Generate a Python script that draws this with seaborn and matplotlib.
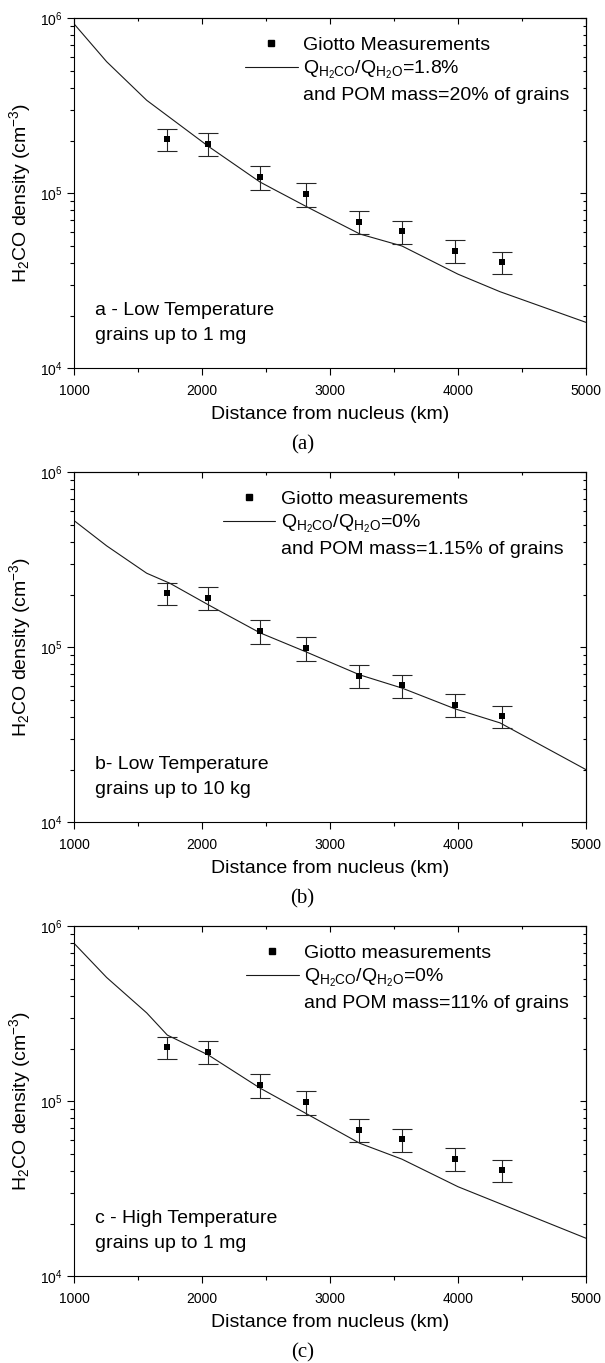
import matplotlib
matplotlib.use("Agg")
import matplotlib.pyplot as plt
import pandas as pd
import seaborn as sns
from matplotlib.lines import Line2D
from matplotlib.ticker import MultipleLocator, NullFormatter

# Giotto H2CO measurements (shared by all panels)
dist_obs = [1725, 2045, 2450, 2810, 3230, 3560, 3975, 4340]
dens_obs = [2.04e5, 1.92e5, 1.24e5, 9.9e4, 6.9e4, 6.05e4, 4.7e4, 4.04e4]
err_obs = [3.0e4, 2.9e4, 1.9e4, 1.5e4, 1.05e4, 0.9e4, 0.7e4, 0.6e4]

# Model density profiles
dist_a = [1000, 1255, 1568, 2052, 2453, 2815, 3234, 3562, 4000, 4328, 5000]
dens_a = [9.3e5, 5.65e5, 3.4e5, 1.85e5, 1.16e5, 8.4e4, 5.85e4, 5.0e4, 3.45e4, 2.74e4, 1.83e4]

dist_b = [1000, 1255, 1568, 1750, 2049, 2453, 2815, 3234, 3562, 3977, 4328, 5000]
dens_b = [5.3e5, 3.8e5, 2.65e5, 2.32e5, 1.75e5, 1.21e5, 9.4e4, 6.95e4, 5.85e4, 4.45e4, 3.7e4, 2.0e4]

dist_c = [1000, 1255, 1568, 1729, 2049, 2453, 2815, 3234, 3562, 4000, 5000]
dens_c = [8.0e5, 5.1e5, 3.2e5, 2.39e5, 1.84e5, 1.19e5, 8.5e4, 5.75e4, 4.67e4, 3.25e4, 1.65e4]

obs_labels = ["Giotto Measurements", "Giotto measurements", "Giotto measurements"]
ratio_labels = ["Q$_{H_2CO}$/Q$_{H_2O}$=1.8%", "Q$_{H_2CO}$/Q$_{H_2O}$=0%", "Q$_{H_2CO}$/Q$_{H_2O}$=0%"]
pom_labels = ["and POM mass=20% of grains", "and POM mass=1.15% of grains",
              "and POM mass=11% of grains"]
case_labels = ["a - Low Temperature\ngrains up to 1 mg",
               "b- Low Temperature\ngrains up to 10 kg",
               "c - High Temperature\ngrains up to 1 mg"]
captions = ["(a)", "(b)", "(c)"]

sns.set_style("ticks")
plt.rcParams["font.family"] = ["Liberation Sans", "DejaVu Sans"]
plt.rcParams["mathtext.default"] = "regular"
plt.rcParams["axes.linewidth"] = 0.8
plt.rcParams["text.color"] = "black"
plt.rcParams["axes.labelcolor"] = "black"
plt.rcParams["xtick.color"] = "black"
plt.rcParams["ytick.color"] = "black"

W, H = 605, 1363
fig = plt.figure(figsize=(W / 100, H / 100), dpi=100)

ax_left, ax_right = 74, 586
panel_tops = [18.3, 472.3, 926.3]
panel_h = 350
legend_x = [0.334, 0.291, 0.336]
curves = [(dist_a, dens_a), (dist_b, dens_b), (dist_c, dens_c)]

for i in range(3):
    top = panel_tops[i]
    ax = fig.add_axes([ax_left / W, 1 - (top + panel_h) / H,
                       (ax_right - ax_left) / W, panel_h / H])
    ax.set_yscale("log")

    model = pd.DataFrame({"dist": curves[i][0], "dens": curves[i][1]})
    obs = pd.DataFrame({"dist": dist_obs, "dens": dens_obs, "err": err_obs})

    sns.lineplot(data=model, x="dist", y="dens", ax=ax, color="#1a1a1a",
                 lw=0.8, estimator=None, sort=False)
    ax.errorbar(obs["dist"], obs["dens"], yerr=obs["err"], fmt="none",
                ecolor="#262626", elinewidth=0.8, capsize=7, capthick=0.8)
    sns.scatterplot(data=obs, x="dist", y="dens", ax=ax, marker="s",
                    color="black", s=18, linewidth=0, zorder=5)

    ax.set_xlim(1000, 5000)
    ax.set_ylim(1e4, 1e6)
    ax.xaxis.set_major_locator(MultipleLocator(1000))
    ax.xaxis.set_minor_locator(MultipleLocator(500))
    ax.yaxis.set_minor_formatter(NullFormatter())
    ax.tick_params(which="both", direction="out", top=False, right=False,
                   width=0.8, labelsize=10, colors="black")
    ax.tick_params(which="major", length=5)
    ax.tick_params(axis="x", which="major", pad=6)
    ax.tick_params(axis="y", which="major", pad=3)
    ax.tick_params(which="minor", length=3)
    for s in ax.spines.values():
        s.set_color("black")
        s.set_linewidth(0.8)

    secx = ax.secondary_xaxis("top")
    secx.xaxis.set_major_locator(MultipleLocator(1000))
    secx.xaxis.set_minor_locator(MultipleLocator(500))
    secx.tick_params(which="both", direction="in", labeltop=False, width=0.8)
    secx.tick_params(which="major", length=4.5)
    secx.tick_params(which="minor", length=2.5)
    secy = ax.secondary_yaxis("right")
    secy.tick_params(which="both", direction="in", labelright=False, width=0.8)
    secy.tick_params(which="major", length=4.5)
    secy.tick_params(which="minor", length=2.5)

    ax.set_xlabel("Distance from nucleus (km)", fontsize=14, labelpad=6)
    ax.set_ylabel("H$_2$CO density (cm$^{-3}$)", fontsize=14)
    ax.yaxis.set_label_coords(-0.08, 0.5)

    handles = [Line2D([], [], marker="s", ls="none", color="black", ms=4.5),
               Line2D([], [], color="#1a1a1a", lw=0.8),
               Line2D([], [], ls="none")]
    ax.legend(handles, [obs_labels[i], ratio_labels[i], pom_labels[i]],
              loc="upper left", bbox_to_anchor=(legend_x[i], 0.948),
              frameon=False, fontsize=14, handlelength=2.7, handletextpad=0.3,
              labelspacing=0.25, borderpad=0, borderaxespad=0)

    ax.text(0.041, 0.129, case_labels[i], transform=ax.transAxes,
            fontsize=14, va="center", ha="left", linespacing=1.65)

    fig.text(0.5, 1 - (top + 427) / H, captions[i], ha="center", va="center",
             fontsize=15, family="Liberation Serif")

fig.savefig("out.png", dpi=100)
